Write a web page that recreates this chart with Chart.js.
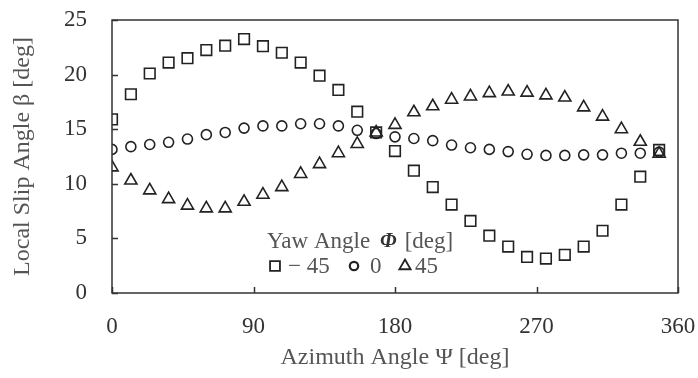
<!DOCTYPE html>
<html>
<head>
<meta charset="utf-8">
<script src="https://cdn.jsdelivr.net/npm/chart.js@4.4.1/dist/chart.umd.min.js"></script>
<style>
html,body{margin:0;padding:0;background:#fff;}
#wrap{width:698px;height:378px;position:relative;}
</style>
</head>
<body>
<div id="wrap"><canvas id="c" width="698" height="378"></canvas></div>
<script>
// ---- data ----
const azimuth = [0,12,24,36,48,60,72,84,96,108,120,132,144,156,168,180,192,204,216,228,240,252,264,276,288,300,312,324,336,348];
const yawMinus45 = [15.9,18.2,20.1,21.1,21.5,22.25,22.65,23.25,22.6,22.0,21.1,19.9,18.6,16.6,14.7,13.0,11.2,9.7,8.1,6.6,5.25,4.25,3.3,3.15,3.5,4.25,5.7,8.1,10.65,13.1];
const yaw0 = [13.15,13.4,13.6,13.8,14.1,14.5,14.7,15.1,15.3,15.3,15.5,15.5,15.3,14.9,14.6,14.3,14.15,13.95,13.55,13.3,13.15,12.95,12.7,12.6,12.6,12.65,12.65,12.8,12.8,12.9];
const yaw45 = [11.5,10.3,9.4,8.6,8.0,7.75,7.75,8.35,9.0,9.7,10.9,11.8,12.8,13.65,14.7,15.4,16.55,17.1,17.7,18.0,18.3,18.45,18.35,18.1,17.9,17.0,16.15,15.0,13.85,12.75];
const seriesLabels = ['\u2212 45','0','45'];
const xTicks = [0,90,180,270,360];
const yTicks = [0,5,10,15,20,25];

const FONT = "'Liberation Serif','DejaVu Serif',serif";
const INK = '#222';

function pts(vals){ return azimuth.map((a,i)=>({x:a,y:vals[i]})); }

const ds = (label, vals, style, r) => ({
  label, data: pts(vals), showLine:false,
  pointStyle: style, pointRadius: r, pointHoverRadius: r,
  pointBackgroundColor: 'rgba(0,0,0,0)', pointBorderColor: INK, pointBorderWidth: 1.6
});

const framePlugin = {
  id:'frame',
  afterDatasetsDraw(chart){
    const {ctx, chartArea:a, scales:{x,y}} = chart;
    ctx.save();
    ctx.strokeStyle = '#333'; ctx.lineWidth = 1.5;
    ctx.strokeRect(a.left, a.top, a.right-a.left, a.bottom-a.top);
    ctx.beginPath();
    xTicks.forEach(v=>{ const px = Math.round(x.getPixelForValue(v))+0.5; ctx.moveTo(px,a.bottom); ctx.lineTo(px,a.bottom-6); });
    yTicks.forEach(v=>{ const py = Math.round(y.getPixelForValue(v))+0.5; ctx.moveTo(a.left,py); ctx.lineTo(a.left+6,py); });
    ctx.stroke();
    // legend inside plot
    ctx.fillStyle = '#555';
    ctx.font = '23px ' + FONT;
    ctx.textBaseline = 'middle';
    ctx.textAlign = 'left';
    const lx = 267, ly1 = 242, ly2 = 266;
    ctx.fillText('Yaw Angle', lx, ly1);
    let w = ctx.measureText('Yaw Angle').width;
    ctx.font = 'italic bold 21px ' + FONT;
    ctx.fillStyle = '#333';
    ctx.fillText('\u03A6', lx + w + 10, ly1);
    const w2 = ctx.measureText('\u03A6').width;
    ctx.font = '23px ' + FONT; ctx.fillStyle = '#555';
    ctx.fillText('[deg]', lx + w + 10 + w2 + 8, ly1);
    const styles = ['rect','circle','triangle'];
    const radii = [7,4.2,6.5];
    const sx = [275, 354, 405];
    const tx = [288, 370, 415];
    for (let i=0;i<3;i++){
      ctx.strokeStyle = INK; ctx.lineWidth = i===1 ? 2.2 : 1.8; ctx.fillStyle='rgba(0,0,0,0)';
      Chart.helpers.drawPoint(ctx, {pointStyle:styles[i], radius:radii[i], borderWidth:ctx.lineWidth, rotation:0}, sx[i], ly2);
      ctx.fillStyle = '#555';
      ctx.fillText(seriesLabels[i], tx[i], ly2+1);
    }
    ctx.restore();
  }
};

new Chart(document.getElementById('c'), {
  type:'scatter',
  data:{ datasets:[
    ds(seriesLabels[0], yawMinus45, 'rect', 7.5),
    ds(seriesLabels[1], yaw0, 'circle', 5),
    ds(seriesLabels[2], yaw45, 'triangle', 7)
  ]},
  options:{
    responsive:false, animation:false,
    layout:{padding:{left:4,right:20,top:20,bottom:2}},
    plugins:{legend:{display:false}, tooltip:{enabled:false}},
    scales:{
      x:{
        type:'linear', min:0, max:360,
        afterBuildTicks(s){ s.ticks = xTicks.map(v=>({value:v})); },
        afterFit(s){ s.height = 378-293-2; s.paddingLeft = 0; s.paddingRight = 0; },
        grid:{display:false, drawTicks:false}, border:{display:false},
        ticks:{font:{family:FONT,size:23}, color:'#333', padding:20, maxRotation:0},
        title:{display:true, text:'Azimuth Angle \u03A8 [deg]', font:{family:FONT,size:24}, color:'#555', padding:{top:4,bottom:4}}
      },
      y:{
        type:'linear', min:0, max:25,
        afterBuildTicks(s){ s.ticks = yTicks.map(v=>({value:v})); },
        afterFit(s){ s.width = 112-4; s.paddingTop = 0; s.paddingBottom = 0; },
        grid:{display:false, drawTicks:false}, border:{display:false},
        ticks:{font:{family:FONT,size:23}, color:'#333', padding:25},
        title:{display:true, text:'Local Slip Angle \u03B2 [deg]', font:{family:FONT,size:24}, color:'#555', padding:{top:4,bottom:4}}
      }
    }
  },
  plugins:[framePlugin]
});
</script>
</body>
</html>
